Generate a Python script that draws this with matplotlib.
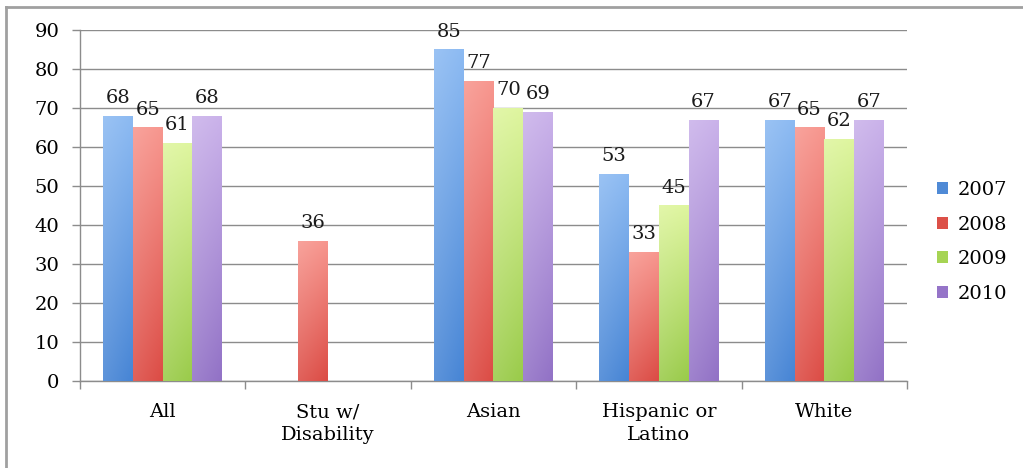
import numpy as np
import matplotlib
matplotlib.use("Agg")
import matplotlib.pyplot as plt
from matplotlib.colors import to_rgb
from matplotlib.patches import Patch
from matplotlib.lines import Line2D
from matplotlib.ticker import FixedLocator

plt.rcParams['font.family'] = ['DejaVu Serif']

categories = ["All", "Stu w/\nDisability", "Asian", "Hispanic or\nLatino", "White"]
years = ["2007", "2008", "2009", "2010"]
vals_2007 = [68, np.nan, 85, 53, 67]
vals_2008 = [65, 36, 77, 33, 65]
vals_2009 = [61, np.nan, 70, 45, 62]
vals_2010 = [68, np.nan, 69, 67, 67]
series = [vals_2007, vals_2008, vals_2009, vals_2010]

# top (light) -> bottom (dark) shading for each series
shades = [
    ("#8cbaf2", "#4785d5"),
    ("#f7968e", "#dc4c45"),
    ("#def59e", "#9acb4a"),
    ("#cab2ea", "#9272c6"),
]
legend_colors = ["#4f8ad6", "#dc5048", "#a6d454", "#9574c8"]


def bar_image(top, bottom, n=64):
    t = np.linspace(0, 1, n)[:, None, None]          # 0 at bottom row, 1 at top row
    h = np.linspace(0, 1, 16)[None, :, None]          # left -> right
    c_top, c_bot = np.array(to_rgb(top)), np.array(to_rgb(bottom))
    img = c_bot + (c_top - c_bot) * t
    img = img + (1 - img) * 0.12 * (1 - h)           # slightly lighter on the left
    return np.clip(img, 0, 1)


fig = plt.figure(figsize=(10.23, 4.68), dpi=100)
fig.patch.set_facecolor("white")
ax = fig.add_axes([0.0782, 0.1859, 0.8084, 0.75])

x = np.arange(len(categories))
bw = 0.18
offsets = (np.arange(4) - 1.5) * bw

for i, vals in enumerate(series):
    v = np.array(vals, dtype=float)
    bars = ax.bar(x + offsets[i], np.nan_to_num(v), width=bw, color="none",
                  edgecolor="none", zorder=3)
    img = bar_image(*shades[i])
    for b, val in zip(bars, v):
        if np.isnan(val):
            continue
        x0, w, h = b.get_x(), b.get_width(), b.get_height()
        im = ax.imshow(img, aspect="auto", extent=(x0, x0 + w, 0, h), origin="lower",
                       zorder=3, interpolation="bilinear")
        im.set_clip_path(b)
        ax.text(x0 + w / 2, h + 2.3, f"{int(val)}", ha="center", va="bottom",
                fontsize=14, color="#1a1a1a", zorder=5)

ax.set_aspect("auto")
ax.set_xlim(-0.5, len(categories) - 0.5)
ax.set_ylim(0, 90)

ax.set_yticks(np.arange(0, 91, 10))
ax.yaxis.grid(True, color="#8c8c8c", linewidth=1.0, zorder=0)
ax.set_axisbelow(True)
ax.tick_params(axis="y", length=6, width=1, color="#8c8c8c", pad=9, labelsize=14)

ax.set_xticks(x)
ax.set_xticklabels(categories, fontsize=14, linespacing=1.35)
ax.tick_params(axis="x", length=0, pad=16)
ax.xaxis.set_minor_locator(FixedLocator(np.arange(-0.5, len(categories), 1.0)))
ax.tick_params(axis="x", which="minor", length=6, width=1, color="#8c8c8c", direction="out")

for side in ("top", "right"):
    ax.spines[side].set_visible(False)
for side in ("left", "bottom"):
    ax.spines[side].set_color("#8c8c8c")
    ax.spines[side].set_linewidth(1.0)

handles = [Patch(facecolor=c, edgecolor="none") for c in legend_colors]
fig.legend(handles, years, loc="center left", bbox_to_anchor=(0.899, 0.483),
           frameon=False, fontsize=14, handlelength=0.55, handleheight=0.55,
           handletextpad=0.5, labelspacing=0.85)

# outer frame of the chart area (top and left edges)
fig.add_artist(Line2D([0.006, 1.0], [0.985, 0.985], transform=fig.transFigure,
                      color="#a0a0a0", linewidth=2))
fig.add_artist(Line2D([0.006, 0.006], [0.0, 0.985], transform=fig.transFigure,
                      color="#a0a0a0", linewidth=2))

fig.savefig("out.png", dpi=100, facecolor="white")
